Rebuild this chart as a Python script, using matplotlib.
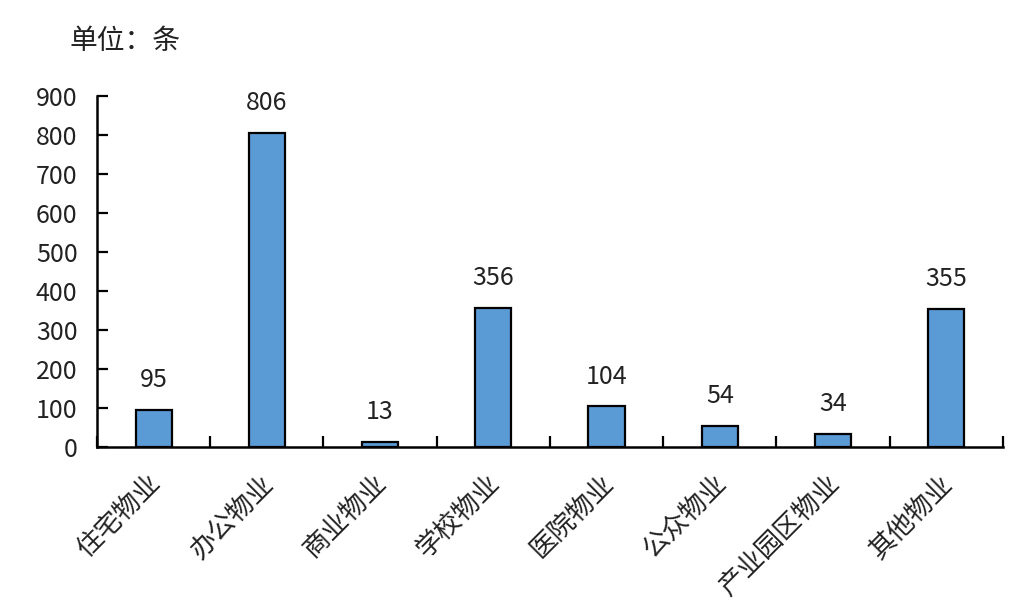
import numpy as np
import matplotlib.pyplot as plt

plt.rcParams['font.family'] = ['Noto Sans CJK SC', 'DejaVu Sans']

# Data
categories = ["住宅物业", "办公物业", "商业物业", "学校物业",
              "医院物业", "公众物业", "产业园区物业", "其他物业"]
counts = [95, 806, 13, 356, 104, 54, 34, 355]
y_ticks = [0, 100, 200, 300, 400, 500, 600, 700, 800, 900]

fig = plt.figure(figsize=(10.2, 6.09), dpi=100)
ax = fig.add_axes([0.0951, 0.266, 0.8882, 0.5764])

x = np.arange(len(categories))
bars = ax.bar(x, counts, width=0.32, color="#5B9BD5",
              edgecolor="black", linewidth=1.6, zorder=3)

for rect, v in zip(bars, counts):
    ax.annotate(str(v), (rect.get_x() + rect.get_width() / 2, v),
                xytext=(0, 12), textcoords="offset points",
                ha="center", va="bottom", fontsize=18, color="#222222")

ax.set_xlim(-0.5, len(categories) - 0.5)
ax.set_ylim(0, 900)
ax.set_yticks(y_ticks)
ax.set_yticklabels([str(t) for t in y_ticks], fontsize=18)

# category boundary ticks on x axis
ax.set_xticks(np.arange(len(categories) + 1) - 0.5)
ax.set_xticklabels([])
ax.tick_params(axis="x", direction="in", length=8, width=1.6)
ax.tick_params(axis="y", direction="in", length=8, width=1.6, pad=14,
               labelcolor="#222222")

for xi, name in zip(x, categories):
    ax.text(xi + 0.02, -82, name, rotation=45, rotation_mode="anchor",
            ha="right", va="center", fontsize=19, color="#222222")

for side in ["top", "right"]:
    ax.spines[side].set_visible(False)
for side in ["left", "bottom"]:
    ax.spines[side].set_linewidth(1.8)

fig.text(0.068, 0.932, "单位：条", fontsize=20, ha="left", va="center",
         color="#222222")

fig.savefig("out.png", dpi=100)
